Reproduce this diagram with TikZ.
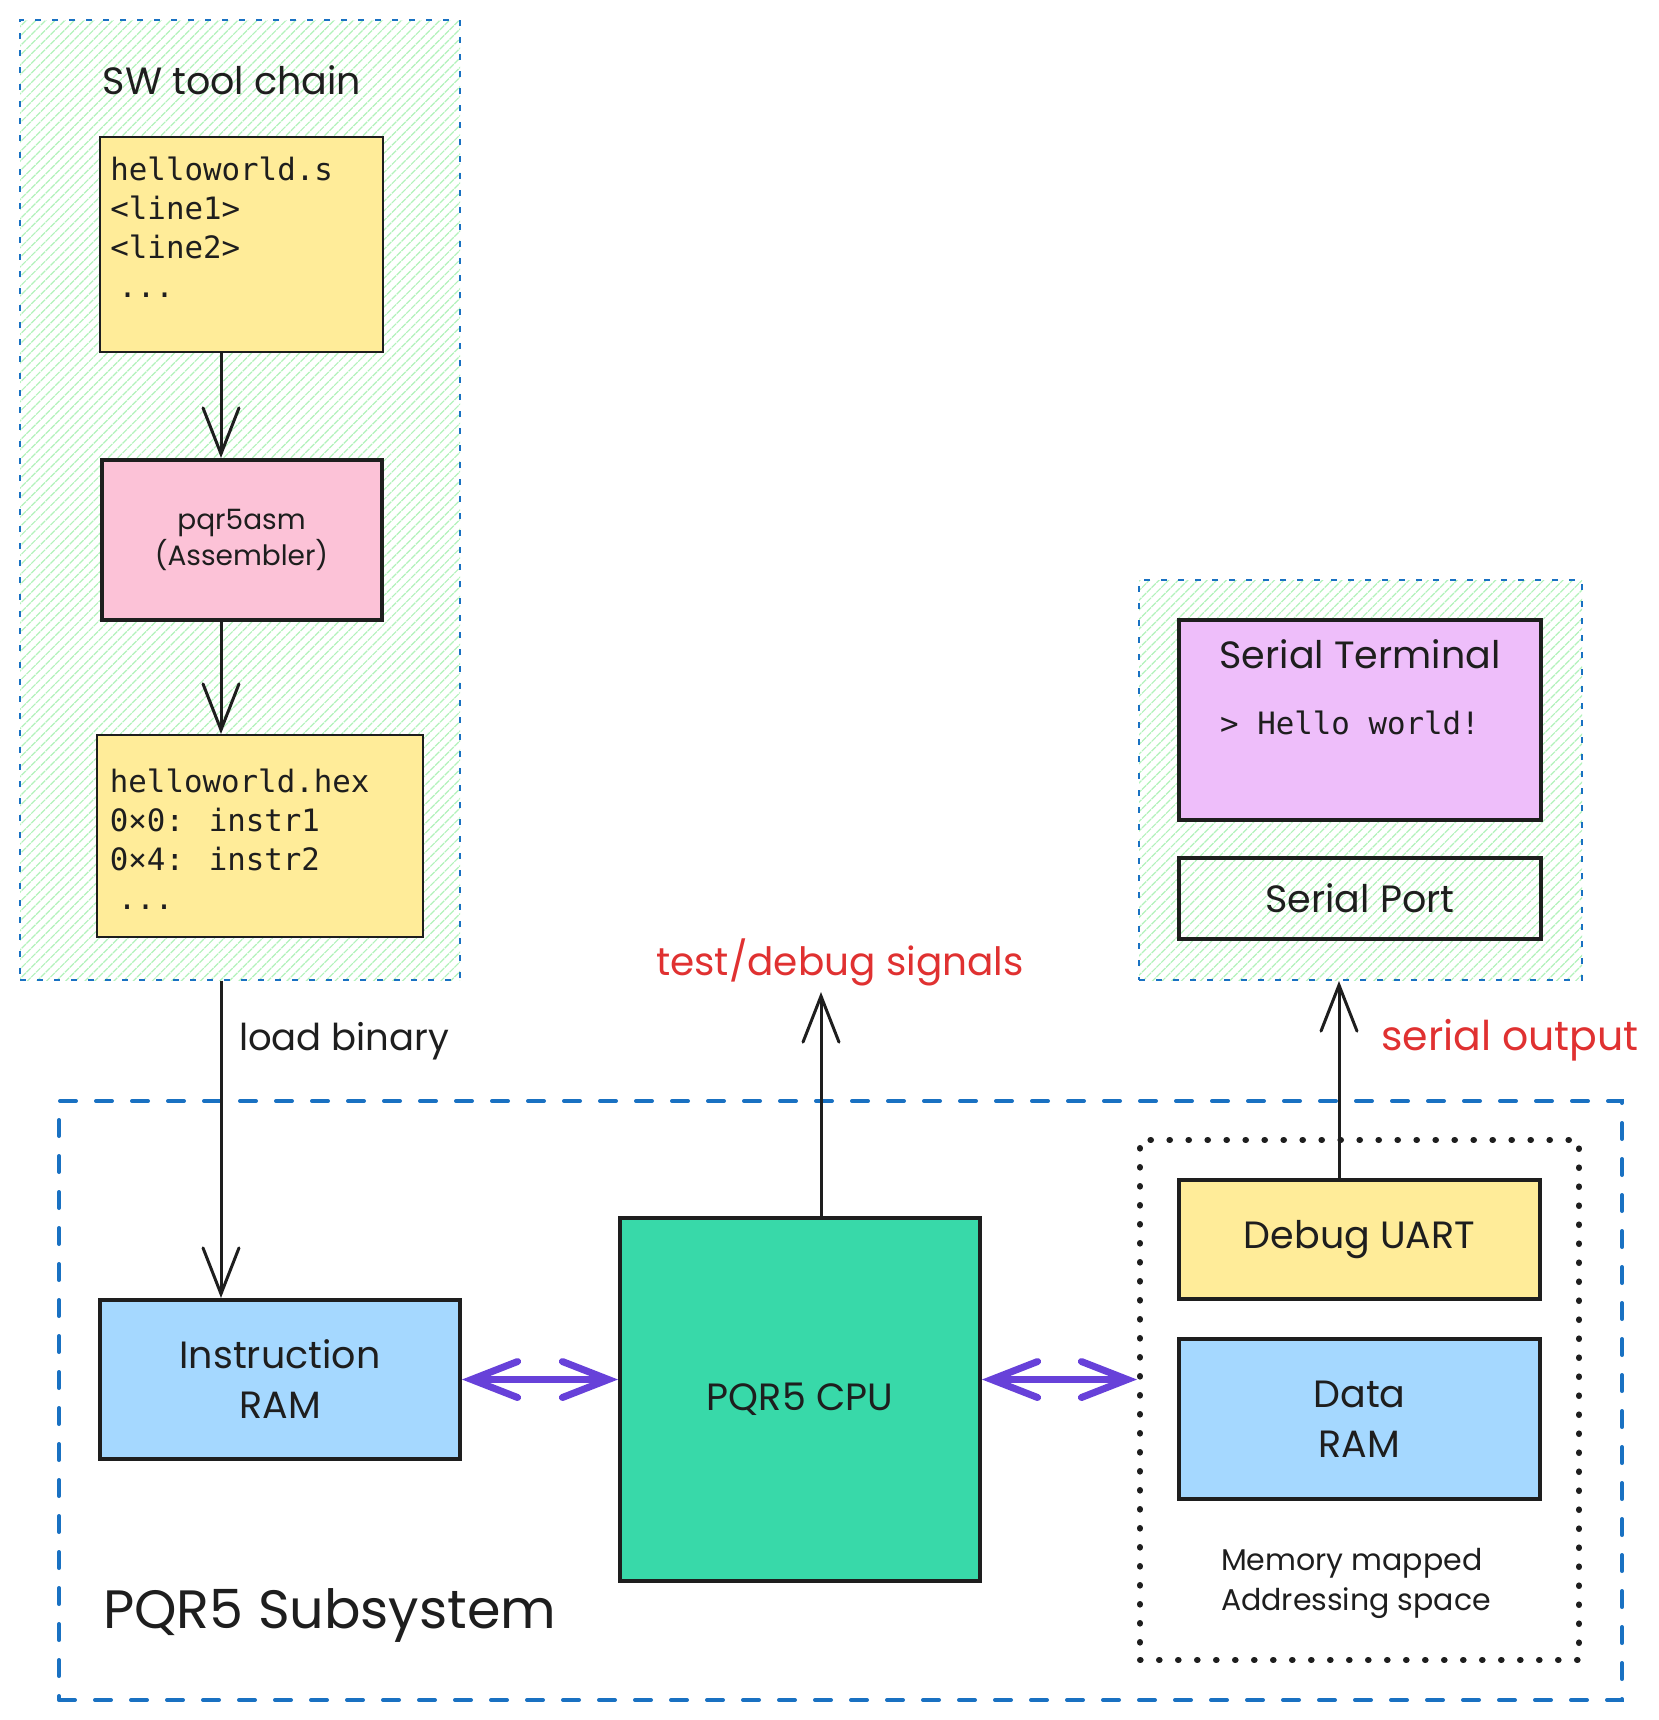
\documentclass[tikz,border=0pt]{standalone}
\usepackage{fontspec}
\setmainfont{Poppins}
\newfontfamily\codefont{DejaVu Sans Mono}
\usetikzlibrary{arrows.meta, positioning, patterns.meta}

\definecolor{hatchgreen}{HTML}{B2F2BB}
\definecolor{frameblue}{HTML}{1971C2}
\definecolor{fileyellow}{HTML}{FFEC99}
\definecolor{asmpink}{HTML}{FCC2D7}
\definecolor{ramblue}{HTML}{A5D8FF}
\definecolor{cpugreen}{HTML}{38D9A9}
\definecolor{termviolet}{HTML}{EEBEFA}
\definecolor{busviolet}{HTML}{6741D9}
\definecolor{notered}{HTML}{E03131}
\definecolor{ink}{HTML}{1E1E1E}

\begin{document}
\begin{tikzpicture}[
        % one unit is one pixel of the sketch, y grows downwards
        x=0.5pt, y=-0.5pt,
        >={Straight Barb[length=23pt, width=18pt, line cap=round]},
        every node/.append style={text=ink},
        group/.style={draw=frameblue, line width=1pt, dash pattern=on 3pt off 5.5pt,
            pattern={Lines[angle=45, distance=3.4pt, line width=0.6pt]}, pattern color=hatchgreen},
        subframe/.style={draw=frameblue, line width=2pt, dash pattern=on 8pt off 10pt, line cap=round},
        memframe/.style={draw=ink, line width=3pt, dash pattern=on 0.3pt off 9.2pt, line cap=round},
        block/.style={draw=ink, line width=2pt, align=center, font=\fontsize{19}{25}\selectfont},
        file/.style={draw=ink, line width=1pt, fill=fileyellow},
        code/.style={anchor=north west, inner sep=0pt, align=left, font=\codefont\fontsize{15.4}{19.4}\selectfont},
        hand/.style={font=\fontsize{19}{24}\selectfont},
        note/.style={font=\fontsize{19.5}{24}\selectfont, text=notered},
        link/.style={->, draw=ink, line width=1.5pt},
        bus/.style={<->, draw=busviolet, line width=3.5pt}
    ]
    \useasboundingbox (0,0) rectangle (1659,1720);

    % SW tool chain
    \node[group, minimum width=220pt, minimum height=480pt] (chain) at (240,500) {};
    \node[hand] (chaintitle) at (232,80) {SW tool chain};
    \node[file, minimum width=141.5pt, minimum height=107.5pt] (src) at (241.5,244.5) {};
    \node[code] (srctext) at ([xshift=5.5pt, yshift=-10.5pt]src.north west)
        {helloworld.s\\<line1>\\<line2>\\\hspace*{4pt}...};
    \node[block, fill=asmpink, minimum width=140pt, minimum height=80pt,
        font=\fontsize{14}{18}\selectfont, below=52.5pt of src] (asm) {pqr5asm\\(Assembler)};
    \node[file, minimum width=163pt, minimum height=101pt, below=56pt of asm, xshift=9pt] (hex) {};
    \node[code] (hextext) at ([xshift=7pt, yshift=-17.5pt]hex.north west)
        {helloworld.hex\\0×0: instr1\\0×4: instr2\\\hspace*{4pt}...};

    % serial host
    \node[group, minimum width=221.5pt, minimum height=200pt] (host) at (1360.5,780) {};
    \node[block, fill=termviolet, minimum width=181pt, minimum height=100pt] (term) at (1360,720) {};
    \node[hand] (termtitle) at (1360,654) {Serial Terminal};
    \node[font=\codefont\fontsize{15.4}{19}\selectfont] (termline) at (1350,723) {> Hello world!};
    \node[block, minimum width=181pt, minimum height=40.5pt, below=17pt of term] (port) {Serial Port};

    % PQR5 subsystem
    \node[subframe, minimum width=781.5pt, minimum height=299.5pt] (sub) at (840.5,1400.5) {};
    \node[anchor=west, font=\fontsize{27}{32}\selectfont] (subtitle) at (96,1615) {PQR5 Subsystem};
    \node[block, fill=ramblue, minimum width=180pt, minimum height=79.5pt] (iram) at (280,1379.5) {Instruction\\RAM};
    \node[block, fill=cpugreen, minimum width=180pt, minimum height=181.5pt] (cpu) at (800,1399.5) {PQR5 CPU};
    \node[memframe, minimum width=219.5pt, minimum height=260pt] (mem) at (1359.5,1400) {};
    \node[block, fill=fileyellow, minimum width=180.5pt, minimum height=59.5pt] (uart) at (1359.5,1239.5) {Debug UART};
    \node[block, fill=ramblue, minimum width=180.5pt, minimum height=80pt, below=18pt of uart] (dram) {Data\\RAM};
    \node[anchor=west, align=left, font=\fontsize{15}{20}\selectfont] (memnote) at (1214,1583)
        {Memory mapped\\Addressing space};

    % Connections
    \coordinate (ax) at (221,0);
    \coordinate (tx) at (1339,0);
    \coordinate (probe) at (821,992);
    \draw[link] (src.south -| ax) -- (asm.north -| ax);
    \draw[link] (asm.south -| ax) -- (hex.north -| ax);
    \draw[link] (chain.south -| ax) -- (iram.north -| ax)
        node[pos=0.19, anchor=west, hand, font=\fontsize{18.5}{24}\selectfont, xshift=5pt] {load binary};
    \draw[link] (cpu.north -| probe) -- (probe);
    \node[note] (probetext) at (840,962) {test/debug signals};
    \draw[link] (uart.north -| tx) -- (host.south -| tx)
        node[pos=0.7, anchor=west, note, font=\fontsize{20.5}{24}\selectfont, xshift=17pt] {serial output};
    \draw[bus] (iram.east) -- (iram.east -| cpu.west);
    \draw[bus] (cpu.east |- iram.east) -- (mem.west |- iram.east);

\end{tikzpicture}
\end{document}
